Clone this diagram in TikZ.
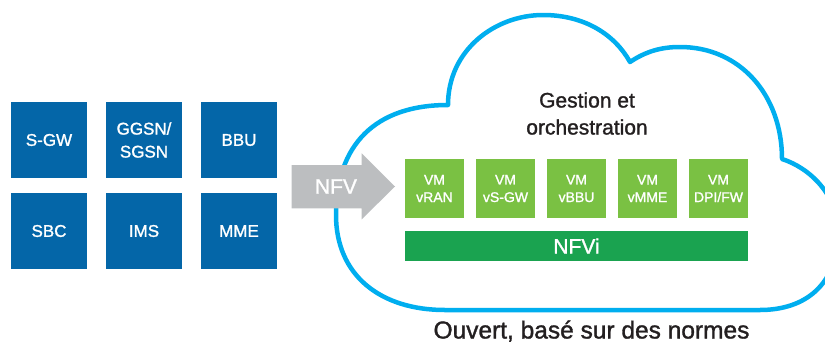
\documentclass[tikz,border=0pt]{standalone}
\usepackage{fontspec}
\setmainfont{Liberation Sans}
\newfontfamily\medfont[FakeBold=1.3]{Liberation Sans}
\definecolor{boxblue}{RGB}{4,102,168}
\definecolor{vmgreen}{RGB}{122,193,67}
\definecolor{nfvgreen}{RGB}{26,163,80}
\definecolor{arrowgray}{RGB}{188,190,192}
\definecolor{cloudblue}{RGB}{0,174,239}
\definecolor{textdark}{RGB}{35,31,32}
\tikzset{
  legacy/.style={fill=boxblue, text=white, minimum width=76pt, minimum height=76pt, inner sep=0pt, align=center, font=\medfont\fontsize{17}{23}\selectfont},
  vmbox/.style={fill=vmgreen, text=white, minimum width=59pt, minimum height=59pt, inner sep=0pt, align=center, font=\medfont\fontsize{14}{17.5}\selectfont},
  infra/.style={fill=nfvgreen, text=white, minimum width=343pt, minimum height=30pt, inner sep=0pt, font=\medfont\fontsize{21}{25}\selectfont},
  cloudline/.style={draw=cloudblue, line width=4.5pt, line join=round},
  darktext/.style={text=textdark, inner sep=0pt, align=center}
}
\begin{document}
\begin{tikzpicture}[x=1pt, y=-1pt]
\useasboundingbox (0,0) rectangle (825,343);
\clip (0,0) rectangle (825,343);
% cloud
\draw[cloudline, fill=white]
  (448,105) .. controls (448,50) and (495,15) .. (543,15)
  .. controls (585,15) and (615,35) .. (630,62)
  .. controls (645,52) and (660,47) .. (680,47)
  .. controls (740,47) and (782,95) .. (782,159)
  .. controls (810,168) and (838,195) .. (838,232)
  .. controls (838,285) and (805,310) .. (760,310)
  -- (445,310)
  .. controls (380,310) and (336,275) .. (336,215)
  .. controls (336,145) and (375,105) .. (448,105) -- cycle;
% legacy boxes
\node[legacy] (sgw) at (49,140) {S-GW};
\node[legacy] (ggsn) at (144,140) {GGSN/\\SGSN};
\node[legacy] (bbu) at (239,140) {BBU};
\node[legacy] (sbc) at (49,231) {SBC};
\node[legacy] (ims) at (144,231) {IMS};
\node[legacy] (mme) at (239,231) {MME};
% arrow
\fill[arrowgray] (291.7,165) -- (361.7,165) -- (361.7,153.3) -- (395,186.5) -- (361.7,219.3) -- (361.7,208.3) -- (291.7,208.3) -- cycle;
\node[text=white, inner sep=0pt, font=\medfont\fontsize{21}{25}\selectfont] (nfv) at (336,186.5) {NFV};
% management text
\node[darktext, font=\medfont\fontsize{21}{27}\selectfont] (mgmt) at (587,113.5) {Gestion et\\orchestration};
% VMs
\node[vmbox] (vran) at (434.5,188.5) {VM\\vRAN};
\node[vmbox] (vsgw) at (505.5,188.5) {VM\\vS-GW};
\node[vmbox] (vbbu) at (576.5,188.5) {VM\\vBBU};
\node[vmbox] (vmme) at (647.5,188.5) {VM\\vMME};
\node[vmbox] (dpi) at (718.5,188.5) {VM\\DPI/FW};
\node[infra] (nfvi) at (576.5,246) {NFVi};
% caption
\node[darktext, anchor=base, font=\medfont\fontsize{24.5}{30}\selectfont] (caption) at (591.5,338.5) {Ouvert, basé sur des normes};
\end{tikzpicture}
\end{document}
